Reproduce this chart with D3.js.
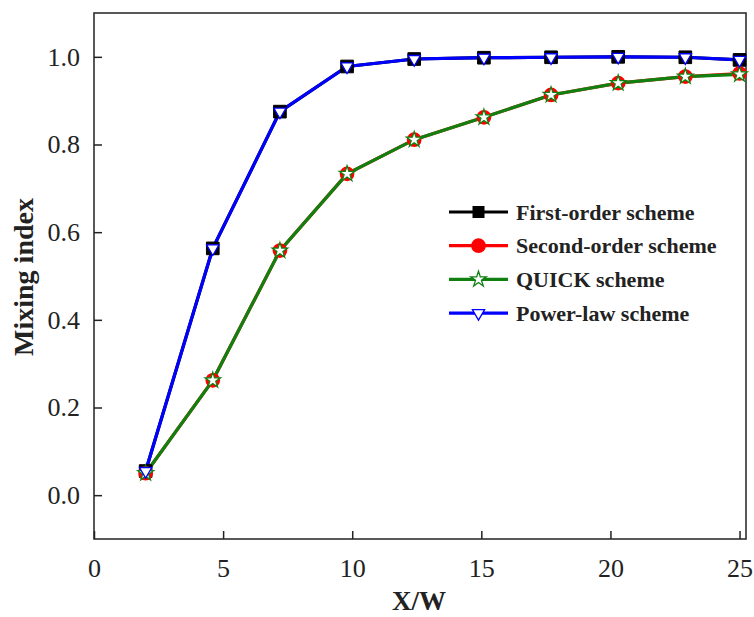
<!DOCTYPE html>
<html>
<head>
<meta charset="utf-8">
<script src="https://cdn.jsdelivr.net/npm/d3@7"></script>
<style>
  body { margin: 0; background: #fff; }
  svg text { font-family: "Liberation Serif", "Times New Roman", "DejaVu Serif", serif !important; }
</style>
</head>
<body>
<svg id="chart"></svg>
<script>
// data
const xVals = [2, 4.6, 7.2, 9.8, 12.4, 15.1, 17.7, 20.3, 22.9, 25];
const firstOrder = [0.055, 0.563, 0.875, 0.978, 0.995, 0.998, 0.999, 1.0, 0.999, 0.993];
const secondOrder = [0.05, 0.262, 0.558, 0.733, 0.811, 0.862, 0.913, 0.940, 0.955, 0.962];
const quick = [0.05, 0.262, 0.558, 0.733, 0.811, 0.862, 0.913, 0.940, 0.955, 0.960];
const powerLaw = [0.055, 0.563, 0.875, 0.978, 0.995, 0.998, 0.999, 1.0, 0.999, 0.993];
const seriesNames = ["First-order scheme", "Second-order scheme", "QUICK scheme", "Power-law scheme"];
const xTicks = [0, 5, 10, 15, 20, 25];
const yTicks = [0.0, 0.2, 0.4, 0.6, 0.8, 1.0];

const width = 754, height = 617;
const margin = {top: 13, right: 8, bottom: 78, left: 94};
const innerW = width - margin.left - margin.right;
const innerH = height - margin.top - margin.bottom;

const svg = d3.select('#chart').attr('width', width).attr('height', height);
const chart = svg.append('g').attr('transform', `translate(${margin.left}, ${margin.top})`);

const xscale = d3.scaleLinear().domain([0, 25.25]).range([0, innerW]);
const yscale = d3.scaleLinear().domain([-0.1, 1.1]).range([innerH, 0]);

// axes (ticks inward)
const xaxis = d3.axisBottom(xscale).tickValues(xTicks).tickSize(-8).tickPadding(20).tickFormat(d3.format('d'));
const yaxis = d3.axisLeft(yscale).tickValues(yTicks).tickSize(-8).tickPadding(14).tickFormat(d3.format('.1f'));

const xg = chart.append('g').attr('transform', `translate(0, ${innerH})`).call(xaxis);
const yg = chart.append('g').call(yaxis);
[xg, yg].forEach(g => {
  g.attr('font-family', null);
  g.select('.domain').remove();
  g.selectAll('line').attr('stroke', '#222').attr('stroke-width', 1.5);
  g.selectAll('text').attr('fill', '#222').attr('font-size', '26px');
});
xg.selectAll('text').attr('dy', '0.71em');

// frame
chart.append('rect')
  .attr('x', 0).attr('y', 0).attr('width', innerW).attr('height', innerH)
  .attr('fill', 'none').attr('stroke', '#222').attr('stroke-width', 1.5);

// axis titles
chart.append('text')
  .attr('x', 419 - margin.left).attr('y', 610 - margin.top)
  .attr('text-anchor', 'middle').attr('font-size', '27px').attr('font-weight', 'bold')
  .attr('fill', '#222').text('X/W');
chart.append('text')
  .attr('transform', 'rotate(-90)')
  .attr('x', -(277 - margin.top)).attr('y', 33 - margin.left)
  .attr('text-anchor', 'middle').attr('font-size', '28px').attr('font-weight', 'bold')
  .attr('fill', '#222').text('Mixing index');

const series = [
  {name: seriesNames[0], values: firstOrder, color: '#000', marker: 'square'},
  {name: seriesNames[1], values: secondOrder, color: '#ff0000', marker: 'circle'},
  {name: seriesNames[2], values: quick, color: '#108010', marker: 'star'},
  {name: seriesNames[3], values: powerLaw, color: '#0000ff', marker: 'triangle'}
];

const line = d3.line()
  .x(d => xscale(d[0]))
  .y(d => yscale(d[1]));

function drawMarker(g, type, color) {
  if (type === 'square') {
    g.append('path').attr('d', d3.symbol(d3.symbolSquare, 160)())
      .attr('fill', '#000').attr('stroke', '#000');
  } else if (type === 'circle') {
    g.append('path').attr('d', d3.symbol(d3.symbolCircle, 170)())
      .attr('fill', color);
  } else if (type === 'star') {
    g.append('path').attr('d', d3.symbol(d3.symbolStar, 75)())
      .attr('fill', '#fff').attr('stroke', color).attr('stroke-width', 1.3);
  } else if (type === 'triangle') {
    g.append('path').attr('d', d3.symbol(d3.symbolTriangle, 65)())
      .attr('transform', 'rotate(180)')
      .attr('fill', '#fff').attr('stroke', color).attr('stroke-width', 1.3);
  }
}

// lines
series.forEach(s => {
  chart.append('path')
    .datum(xVals.map((x, i) => [x, s.values[i]]))
    .attr('d', line)
    .attr('fill', 'none')
    .attr('stroke', s.color)
    .attr('stroke-width', 3.2);
});

// markers
series.forEach(s => {
  xVals.forEach((x, i) => {
    const g = chart.append('g')
      .attr('transform', `translate(${xscale(x)}, ${yscale(s.values[i])})`);
    drawMarker(g, s.marker, s.color);
  });
});

// legend
const legend = chart.append('g').attr('transform', 'translate(355, 199)');
series.forEach((s, i) => {
  const row = legend.append('g').attr('transform', `translate(0, ${i * 33.7})`);
  row.append('line').attr('x1', 0).attr('x2', 59).attr('y1', 0).attr('y2', 0)
    .attr('stroke', s.color).attr('stroke-width', 3.2);
  const m = row.append('g').attr('transform', 'translate(29.5, 0)');
  if (s.marker === 'square') {
    m.append('rect').attr('x', -6).attr('y', -6).attr('width', 12).attr('height', 12).attr('fill', '#000');
  } else {
    drawMarker(m, s.marker, s.color);
  }
  row.append('text').attr('x', 67).attr('y', 0).attr('dy', '0.35em')
    .attr('font-size', '22px').attr('font-weight', 'bold').attr('fill', '#222')
    .text(s.name);
});
</script>
</body>
</html>
